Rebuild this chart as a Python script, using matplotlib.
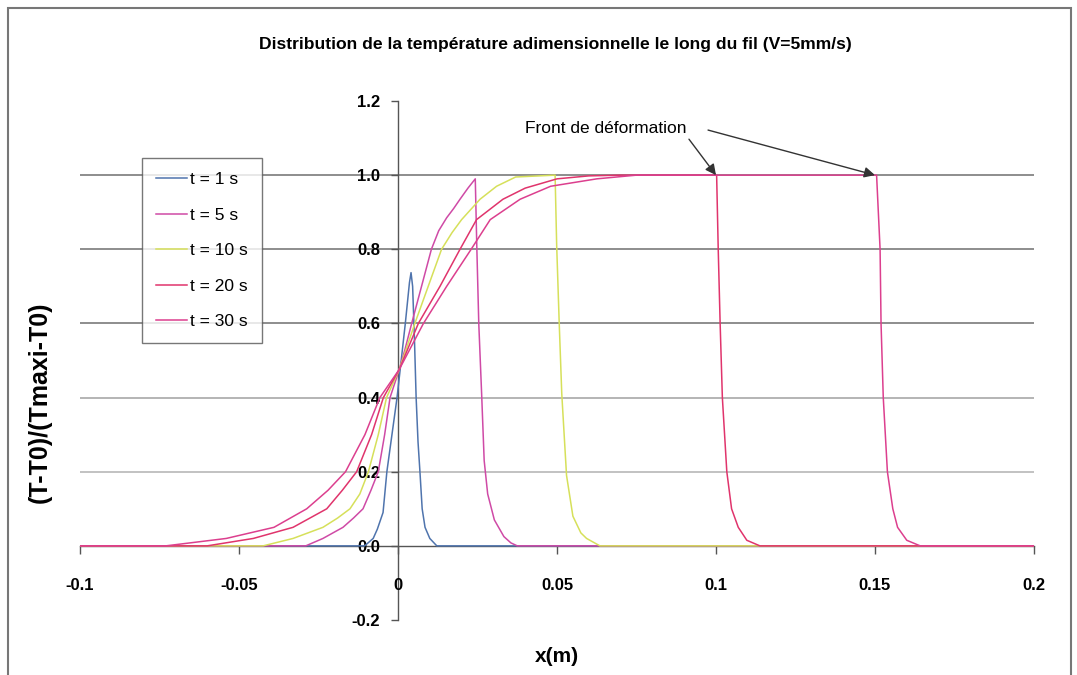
import matplotlib
matplotlib.use("Agg")
import matplotlib.pyplot as plt
from matplotlib.patches import Rectangle

plt.rcParams['font.family'] = ['Liberation Sans', 'DejaVu Sans']

# ---------------- data ----------------
title = "Distribution de la température adimensionnelle le long du fil (V=5mm/s)"
x_label = "x(m)"
y_label = "(T-T0)/(Tmaxi-T0)"
series_labels = ["t = 1 s", "t = 5 s", "t = 10 s", "t = 20 s", "t = 30 s"]

x_t1 = [-0.1, -0.0105, -0.0078, -0.0065, -0.0047, -0.0035, -0.0003, 0.0023, 0.0036, 0.0041,
        0.0046, 0.0052, 0.0057, 0.0063, 0.0069, 0.0076, 0.0085, 0.0100, 0.0122, 0.2]
y_t1 = [0, 0, 0.02, 0.045, 0.09, 0.20, 0.40, 0.60, 0.71, 0.737,
        0.70, 0.55, 0.40, 0.28, 0.20, 0.10, 0.05, 0.02, 0, 0]

x_t5 = [-0.1, -0.029, -0.0236, -0.0173, -0.014, -0.011, -0.0085, -0.0062, -0.0042, -0.0025,
        0.0004, 0.0022, 0.0043, 0.0074, 0.0105, 0.0128, 0.0153, 0.0175, 0.0195, 0.022,
        0.0243, 0.0248, 0.0254, 0.0263, 0.0271, 0.0282, 0.0303, 0.0333, 0.0355, 0.0375, 0.2]
y_t5 = [0, 0, 0.02, 0.05, 0.075, 0.10, 0.15, 0.20, 0.30, 0.40,
        0.476, 0.53, 0.60, 0.70, 0.80, 0.85, 0.885, 0.91, 0.935, 0.965,
        0.99, 0.80, 0.60, 0.41, 0.23, 0.14, 0.07, 0.025, 0.008, 0, 0]

x_t10 = [-0.1, -0.0424, -0.033, -0.0236, -0.019, -0.0151, -0.012, -0.0093, -0.0062, -0.0036,
         0.0004, 0.0053, 0.0095, 0.0137, 0.017, 0.020, 0.0258, 0.031, 0.037, 0.0494,
         0.0499, 0.0507, 0.0515, 0.053, 0.055, 0.0575, 0.0593, 0.0635, 0.2]
y_t10 = [0, 0, 0.02, 0.05, 0.075, 0.10, 0.14, 0.20, 0.30, 0.40,
         0.476, 0.60, 0.70, 0.80, 0.845, 0.88, 0.935, 0.97, 0.995, 1.0,
         0.81, 0.60, 0.41, 0.19, 0.08, 0.035, 0.02, 0, 0]

x_t20 = [-0.1, -0.060, -0.0455, -0.033, -0.0224, -0.0175, -0.013, -0.0083, -0.0046, 0.0004,
         0.0064, 0.0132, 0.0195, 0.0247, 0.033, 0.040, 0.050, 0.060, 0.070, 0.1002,
         0.1007, 0.1013, 0.102, 0.1034, 0.1049, 0.107, 0.1097, 0.1138, 0.2]
y_t20 = [0, 0, 0.02, 0.05, 0.10, 0.15, 0.20, 0.30, 0.40, 0.476,
         0.60, 0.70, 0.80, 0.88, 0.935, 0.965, 0.99, 0.998, 1.0, 1.0,
         0.80, 0.60, 0.40, 0.20, 0.10, 0.05, 0.015, 0, 0]

x_t30 = [-0.1, -0.073, -0.054, -0.039, -0.0287, -0.022, -0.0165, -0.0104, -0.0057, 0.0004,
         0.008, 0.0153, 0.023, 0.029, 0.0384, 0.048, 0.0625, 0.075, 0.1505, 0.1516,
         0.1519, 0.1526, 0.1539, 0.1556, 0.1571, 0.160, 0.1642, 0.2]
y_t30 = [0, 0, 0.02, 0.05, 0.10, 0.15, 0.20, 0.30, 0.40, 0.476,
         0.60, 0.70, 0.80, 0.88, 0.935, 0.97, 0.99, 1.0, 1.0, 0.80,
         0.60, 0.40, 0.20, 0.10, 0.05, 0.015, 0, 0]

x_ticks = [-0.1, -0.05, 0, 0.05, 0.1, 0.15, 0.2]
x_tick_labels = ["-0.1", "-0.05", "0", "0.05", "0.1", "0.15", "0.2"]
y_ticks = [-0.2, 0.0, 0.2, 0.4, 0.6, 0.8, 1.0, 1.2]
y_tick_labels = ["-0.2", "0.0", "0.2", "0.4", "0.6", "0.8", "1.0", "1.2"]
grid_levels = [0.2, 0.4, 0.6, 0.8, 1.0]

annot_text = "Front de déformation"
front_positions = [0.1, 0.15]

# ---------------- styling ----------------
colors = ["#4f74ad", "#cf4aa6", "#d6e05a", "#e0346c", "#dc3f8e"]
grid_colors = ["#b8b8b8", "#a8a8a8", "#7a7a7a", "#7a7a7a", "#7a7a7a"]

fig = plt.figure(figsize=(10.77, 6.75), dpi=100)
ax = fig.add_axes([80/1077, 1-620/675, (1034-80)/1077, (620-101)/675])
ax.set_xlim(-0.1, 0.2)
ax.set_ylim(-0.2, 1.2)

for lvl, gc in zip(grid_levels, grid_colors):
    ax.axhline(lvl, color=gc, lw=1.2, zorder=0.5)

xs = [x_t1, x_t5, x_t10, x_t20, x_t30]
ys = [y_t1, y_t5, y_t10, y_t20, y_t30]
for xv, yv, c, lab in zip(xs, ys, colors, series_labels):
    ax.plot(xv, yv, color=c, lw=1.1, label=lab, zorder=2)

# axes crossing at zero
for s in ["top", "right"]:
    ax.spines[s].set_visible(False)
ax.spines["left"].set_position(("data", 0))
ax.spines["bottom"].set_position(("data", 0))
for s in ["left", "bottom"]:
    ax.spines[s].set_color("#555555")
    ax.spines[s].set_linewidth(1.0)
    ax.spines[s].set_zorder(1)

ax.set_xticks(x_ticks)
ax.set_xticklabels(x_tick_labels, fontsize=12, fontweight="bold")
ax.set_yticks(y_ticks)
ax.set_yticklabels(y_tick_labels, fontsize=12, fontweight="bold")
ax.tick_params(axis="x", direction="out", length=6, width=1, color="#555555", pad=17)
ax.tick_params(axis="y", direction="out", length=5, width=1, color="#555555", pad=8)

fig.text(555/1077, 1-45/675, title, ha="center", va="center", fontsize=12.6, fontweight="bold")
fig.text(557/1077, 1-656/675, x_label, ha="center", va="center", fontsize=15, fontweight="bold")
fig.text(40/1077, 1-402/675, y_label, ha="center", va="center", fontsize=18, fontweight="bold",
         rotation=90)

leg = ax.legend(loc="upper left", bbox_to_anchor=(142/1077, 1-158/675),
                bbox_transform=fig.transFigure, borderaxespad=0, fontsize=12.5,
                frameon=True, fancybox=False, edgecolor="#555555", handlelength=1.8,
                handletextpad=0.15, labelspacing=1.17, borderpad=0.82)
leg.get_frame().set_linewidth(1.0)

# annotation with two arrows
ax.text(0.040, 1.127, annot_text, fontsize=12.5, va="center", ha="left")
arrow_starts = [(0.0915, 1.097), (0.0975, 1.1216)]
for (sx, sy), fx in zip(arrow_starts, front_positions):
    ax.annotate("", xy=(fx, 1.0), xytext=(sx, sy),
                arrowprops=dict(arrowstyle="-|>", color="#333333", lw=1.0, mutation_scale=16,
                                shrinkA=0, shrinkB=0))

# outer chart frame
fig.patches.append(Rectangle((8/1077, -0.02), (1071-8)/1077, 1.02-8/675,
                             transform=fig.transFigure, fill=False, edgecolor="#777777",
                             lw=1.5))

fig.savefig("out.png", dpi=100)
